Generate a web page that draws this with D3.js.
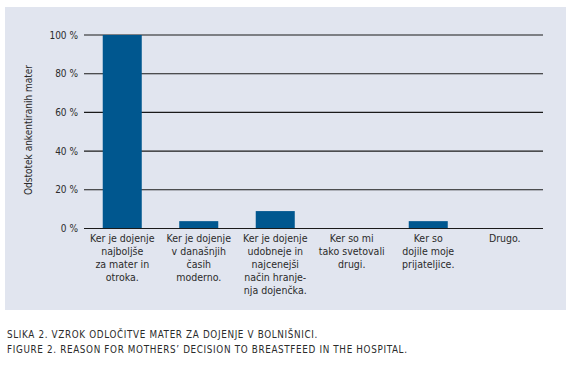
<!DOCTYPE html>
<html><head><meta charset="utf-8">
<script src="https://cdn.jsdelivr.net/npm/d3@7"></script>
<style>
body{margin:0;background:#fff;}
text{font-family:"Liberation Sans Narrow","DejaVu Sans Condensed","Roboto",sans-serif;fill:#2b2b2b;}
</style></head>
<body><svg id="c" width="576" height="365"></svg>
<script>
const categories = [
  ["Ker je dojenje","najboljše","za mater in","otroka."],
  ["Ker je dojenje","v današnjih","časih","moderno."],
  ["Ker je dojenje","udobneje in","najcenejši","način hranje-","nja dojenčka."],
  ["Ker so mi","tako svetovali","drugi."],
  ["Ker so","dojile moje","prijateljice."],
  ["Drugo."]
];
const values = [100, 3.8, 9, 0, 3.8, 0];
const yTicks = [0, 20, 40, 60, 80, 100];
const yTitle = "Odstotek ankentiranih mater";
const captions = ["SLIKA 2. VZROK ODLOČITVE MATER ZA DOJENJE V BOLNIŠNICI.",
                  "FIGURE 2. REASON FOR MOTHERS’ DECISION TO BREASTFEED IN THE HOSPITAL."];

const svg = d3.select("#c");
svg.append("rect").attr("x",5).attr("y",7).attr("width",561).attr("height",303).attr("fill","#e1e5ef");

const x0 = 84, x1 = 543, yTop = 35, yBot = 228.5;
const x = d3.scaleBand().domain(d3.range(categories.length)).range([x0,x1]).paddingInner(0.49).paddingOuter(0.245);
const y = d3.scaleLinear().domain([0,100]).range([yBot,yTop]);

const g = svg.append("g");
g.selectAll("line.grid").data(yTicks).join("line")
  .attr("x1",x0).attr("x2",x1).attr("y1",d=>y(d)).attr("y2",d=>y(d))
  .attr("stroke","#1a1a1a").attr("stroke-width",1.1);

g.selectAll("rect.bar").data(values).join("rect")
  .attr("x",(d,i)=>x(i)).attr("width",x.bandwidth())
  .attr("y",d=>y(d)).attr("height",d=>yBot-y(d)).attr("fill","#00578f");

g.append("line").attr("x1",x0).attr("x2",x1).attr("y1",y(0)).attr("y2",y(0)).attr("stroke","#1a1a1a").attr("stroke-width",1.1);

g.selectAll("text.yt").data(yTicks).join("text")
  .attr("x",78).attr("y",d=>y(d)).attr("dy","0.35em").attr("text-anchor","end")
  .attr("font-size",10).text(d=>d+" %");

svg.append("text").attr("transform","translate(32,130) rotate(-90)")
  .attr("text-anchor","middle").attr("font-size",10).text(yTitle);

categories.forEach((lines,i)=>{
  const t = svg.append("text").attr("text-anchor","middle").attr("font-size",10.5)
    .attr("x", x(i)+x.bandwidth()/2).attr("y",241.5);
  lines.forEach((l,j)=>t.append("tspan").attr("x",x(i)+x.bandwidth()/2).attr("dy",j?13:0).text(l));
});

captions.forEach((c,i)=>{
  svg.append("text").attr("x",7).attr("y",337.5+i*15).attr("font-size",9.8)
    .attr("letter-spacing",0.65).text(c);
});
</script></body></html>
